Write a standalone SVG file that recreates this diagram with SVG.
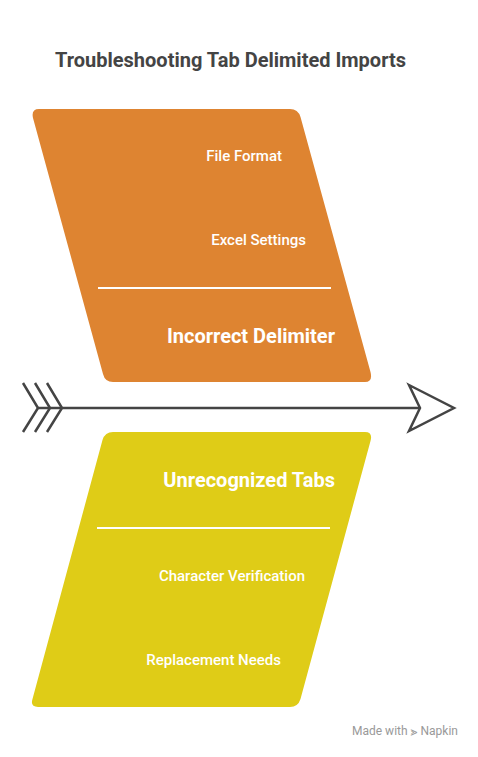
<svg xmlns="http://www.w3.org/2000/svg" width="478" height="757" viewBox="0 0 478 757">
<style>
.t{font-family:Roboto,"Liberation Sans",sans-serif;fill:#fff;text-anchor:end}
.s{font-size:15px;font-weight:500}
.b{font-size:20px;font-weight:700}
.div{stroke:#fff;stroke-width:2}
.ln{stroke:#444;stroke-width:2.5;fill:none;stroke-linejoin:miter}
</style>
<rect width="478" height="757" fill="#fff"/>
<text x="55" y="67" style="font-family:Roboto,'Liberation Sans',sans-serif;font-size:20px;font-weight:700;fill:#444">Troubleshooting Tab Delimited Imports</text>
<g id="incorrect-delimiter">
<path d="M39,109 L290,109 Q298,109 300.5,117 L370.5,372 Q373,382 365,382 L113,382 Q105,382 103,374 L33,118 Q31,109 39,109 Z" fill="#DE8431"/>
<text class="t s" x="282" y="161">File Format</text>
<text class="t s" x="306" y="245">Excel Settings</text>
<line class="div" x1="98" y1="288" x2="331" y2="288"/>
<text class="t b" x="335" y="343">Incorrect Delimiter</text>
</g>
<g id="unrecognized-tabs">
<path d="M113,432 L365,432 Q373,432 370.5,441 L300.5,699 Q298,707 290,707 L38,707 Q30,707 32.5,699 L102.5,440 Q105,432 113,432 Z" fill="#DFCC17"/>
<text class="t b" x="335" y="487">Unrecognized Tabs</text>
<line class="div" x1="97" y1="528" x2="330" y2="528"/>
<text class="t s" x="305" y="581">Character Verification</text>
<text class="t s" x="281" y="665">Replacement Needs</text>
</g>
<g id="connectors">
<line class="ln" x1="38" y1="408" x2="420" y2="408"/>
<polyline class="ln" points="23,383 38,408 23,432"/>
<polyline class="ln" points="35,383 50,408 35,432"/>
<polyline class="ln" points="47,383 62,408 47,432"/>
<polygon class="ln" points="409,385 454,408 409,431 420,408"/>
</g>
<text x="458" y="735" style="font-family:Roboto,'Liberation Sans',sans-serif;font-size:12px;fill:#999;text-anchor:end">Made with ⪢ Napkin</text>
</svg>
